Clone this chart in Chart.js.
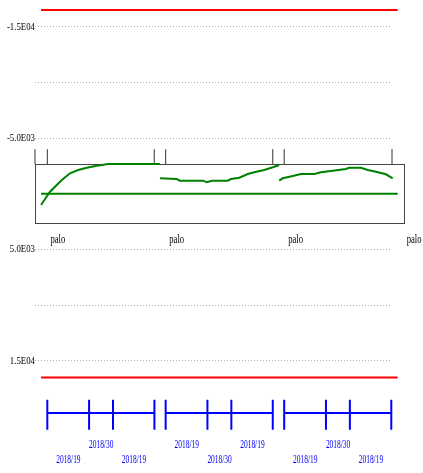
<!DOCTYPE html>
<html>
<head>
<meta charset="utf-8">
<script src="https://cdn.jsdelivr.net/npm/chart.js@4.4.1/dist/chart.umd.min.js"></script>
<style>
  html, body { margin: 0; padding: 0; background: #ffffff; }
  #wrap { width: 423px; height: 473px; }
</style>
</head>
<body>
<div id="wrap"><canvas id="c" width="423" height="473"></canvas></div>
<script>
// ---------------- data ----------------
const yTickValues = [-15000, -10000, -5000, 0, 5000, 10000, 15000];
const yTickLabels = ['-1.5E04', '', '-5.0E03', '', '5.0E03', '', '1.5E04'];
const yRange = [-17398, 25088];
const xRange = [0, 100];

const limitValues = [-16500, 16500];          // red lines
const baselineValue = 0;                       // green flat line
const lineSpan = [1.7, 101.6];

const boxValueRange = [-2650, 2650];
const boxXRange = [0, 103.3];
const boxTickPositions = [0, 3.45, 33.4, 36.6, 66.6, 69.8, 100, 103.3];
const boxTickTop = -4000;

const seriesA_x = [1.7, 4.2, 7.5, 9.8, 12.1, 14.5, 17.3, 20.5, 35.0];
const seriesA_y = [1015, -180, -1230, -1830, -2130, -2335, -2515, -2668, -2668];
const seriesB_x = [35.0, 39.7, 40.6, 47.1, 48.1, 49.6, 54.0, 54.9, 57.2, 59.6, 61.4, 64.2, 66.6, 68.4];
const seriesB_y = [-1383, -1320, -1168, -1168, -1024, -1168, -1168, -1320, -1437, -1770, -1922, -2129, -2371, -2578];
const seriesC_x = [68.4, 69.4, 72.2, 74.5, 78.2, 80.1, 83.4, 87.1, 88.0, 91.3, 93.2, 95.5, 98.3, 100.2, 101.6];
const seriesC_y = [-1168, -1383, -1590, -1770, -1770, -1922, -2066, -2219, -2335, -2335, -2129, -1976, -1743, -1383, -1168];

const groupStarts = [3.45, 36.6, 69.8];
const groupLength = 30;
const timelineValue = 19700;
const timelineTickRange = [18500, 21200];
const timelineTickOffsets = [0, 11.7, 18.4, 30];

const paloLabels = ['palo', 'palo', 'palo', 'palo'];
const paloPositions = [6.4, 39.7, 73.0, 106.2];
const paloValue = 4160;

const dateLabelTexts = ['2018/19', '2018/30', '2018/19'];
const dateLabelOffsets = [5.9, 15.1, 24.3];
const dateRowValues = [22570, 23920];
const dateRowsPerGroup = [[1, 0, 1], [0, 1, 0], [1, 0, 1]];

// ---------------- build datasets ----------------
const pts = (xs, ys) => xs.map((x, i) => ({ x: x, y: ys[i] }));
const hLine = (v) => [{ x: lineSpan[0], y: v }, { x: lineSpan[1], y: v }];

const boxTicks = [];
boxTickPositions.forEach(p => {
  boxTicks.push({ x: p, y: boxValueRange[0] }, { x: p, y: boxTickTop }, { x: p, y: null });
});

const timeline = [];
groupStarts.forEach(g => {
  timeline.push({ x: g, y: timelineValue }, { x: g + groupLength, y: timelineValue }, { x: g + groupLength, y: null });
  timelineTickOffsets.forEach(o => {
    timeline.push({ x: g + o, y: timelineTickRange[0] }, { x: g + o, y: timelineTickRange[1] }, { x: g + o, y: null });
  });
});

const base = { pointRadius: 0, pointHoverRadius: 0, tension: 0, fill: false, clip: false, spanGaps: false };
const datasets = [
  Object.assign({}, base, { label: 'top', data: hLine(limitValues[0]), borderColor: '#ff0000', borderWidth: 2 }),
  Object.assign({}, base, { label: 'bottom', data: hLine(limitValues[1]), borderColor: '#ff0000', borderWidth: 2 }),
  Object.assign({}, base, { label: 'base', data: hLine(baselineValue), borderColor: '#008000', borderWidth: 2 }),
  Object.assign({}, base, { label: 'A', data: pts(seriesA_x, seriesA_y), borderColor: '#008000', borderWidth: 2 }),
  Object.assign({}, base, { label: 'B', data: pts(seriesB_x, seriesB_y), borderColor: '#008000', borderWidth: 2 }),
  Object.assign({}, base, { label: 'C', data: pts(seriesC_x, seriesC_y), borderColor: '#008000', borderWidth: 2 }),
  Object.assign({}, base, { label: 'ticks', data: boxTicks, borderColor: '#333333', borderWidth: 1 }),
  Object.assign({}, base, { label: 'timeline', data: timeline, borderColor: '#0000ff', borderWidth: 2 })
];

// ---------------- plugins ----------------
const SERIF = '"Liberation Serif", "Times New Roman", serif';
function drawText(ctx, text, x, y, color, size, sx) {
  ctx.save();
  ctx.translate(x, y);
  ctx.scale(sx, 1);
  ctx.font = size + 'px ' + SERIF;
  ctx.fillStyle = color;
  ctx.textAlign = 'center';
  ctx.textBaseline = 'middle';
  ctx.fillText(text, 0, 0);
  ctx.restore();
}

const AXIS_LABEL_RIGHT = 35;
const AXIS_LABEL_SQUEEZE = 0.8;

const boxPlugin = {
  id: 'boxPlugin',
  beforeDatasetsDraw(chart) {
    const ctx = chart.ctx, xs = chart.scales.x, ys = chart.scales.y;
    const x0 = Math.round(xs.getPixelForValue(boxXRange[0])) + 0.5;
    const x1 = Math.round(xs.getPixelForValue(boxXRange[1])) + 0.5;
    const y0 = Math.round(ys.getPixelForValue(boxValueRange[0])) + 0.5;
    const y1 = Math.round(ys.getPixelForValue(boxValueRange[1])) + 0.5;
    ctx.save();
    ctx.fillStyle = '#ffffff';
    ctx.fillRect(x0 - 0.5, y0 - 0.5, x1 - x0 + 1, y1 - y0 + 1);
    ctx.strokeStyle = '#444444';
    ctx.lineWidth = 1;
    ctx.strokeRect(x0, y0, x1 - x0, y1 - y0);
    ctx.restore();
  },
  afterDatasetsDraw(chart) {
    const ctx = chart.ctx, xs = chart.scales.x, ys = chart.scales.y;
    paloLabels.forEach((t, i) => {
      drawText(ctx, t, xs.getPixelForValue(paloPositions[i]), ys.getPixelForValue(paloValue), '#000000', 12, 0.72);
    });
    groupStarts.forEach((g, gi) => {
      dateLabelTexts.forEach((t, i) => {
        const row = dateRowsPerGroup[gi][i];
        drawText(ctx, t, xs.getPixelForValue(g + dateLabelOffsets[i]), ys.getPixelForValue(dateRowValues[row]), '#0000ff', 12, 0.62);
      });
    });
    // squeeze the y-axis tick labels (drawn next, in the z=1 layer) horizontally
    ctx.save();
    ctx.translate(AXIS_LABEL_RIGHT, 0);
    ctx.scale(AXIS_LABEL_SQUEEZE, 1);
    ctx.translate(-AXIS_LABEL_RIGHT, 0);
  },
  afterDraw(chart) {
    chart.ctx.restore();
  }
};

new Chart(document.getElementById('c'), {
  type: 'line',
  data: { datasets: datasets },
  options: {
    responsive: false,
    animation: false,
    events: [],
    layout: { padding: { left: 0, right: 31, top: 0, bottom: 0 } },
    plugins: { legend: { display: false }, tooltip: { enabled: false }, title: { display: false } },
    scales: {
      x: { type: 'linear', min: xRange[0], max: xRange[1], display: false },
      y: {
        type: 'linear',
        reverse: true,
        min: yRange[0],
        max: yRange[1],
        afterBuildTicks(scale) { scale.ticks = yTickValues.map(v => ({ value: v })); },
        afterFit(scale) { scale.width = 35; scale.paddingTop = 0; scale.paddingBottom = 0; },
        grid: { color: '#b0b0b0', lineWidth: 1, drawTicks: false },
        border: { display: false, dash: [1, 2] },
        ticks: {
          z: 1,
          padding: 0,
          color: '#000000',
          font: { family: SERIF, size: 11 },
          callback: (value) => { const i = yTickValues.indexOf(value); return i >= 0 ? yTickLabels[i] : ''; }
        }
      }
    }
  },
  plugins: [boxPlugin]
});
</script>
</body>
</html>
